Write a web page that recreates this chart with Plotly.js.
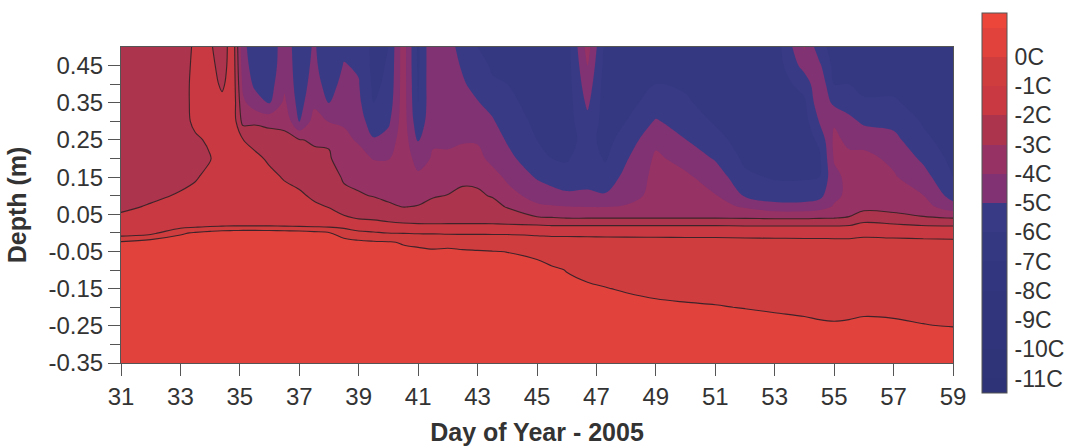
<!DOCTYPE html>
<html>
<head>
<meta charset="utf-8">
<script src="https://cdn.plot.ly/plotly-3.0.1.min.js"></script>
<style>html,body{margin:0;padding:0;background:#fff;}#chart{width:1077px;height:447px;}</style>
</head>
<body>
<div id="chart"></div>
<script>
// Day of year (x) and depth in metres (y)
const days = [31,32,33,33.5,34,34.4,34.8,35.1,35.5,36,36.5,37,37.5,38,38.5,39,39.5,40,40.5,41,41.5,42,42.5,43,43.5,44,45,45.5,46,46.7,47.3,48,49,50,51,52,53,54,54.5,55,55.5,56,57,58,59];
const depths = [-0.35,-0.3,-0.25,-0.2,-0.15,-0.1,-0.05,-0.025,0,0.02,0.04,0.07,0.1,0.15,0.2,0.25,0.3,0.35,0.4,0.45,0.5];

// Temperature profile (deg C) for each day, listed from -0.35 m up to 0.5 m
const tempByDay = [
 [0.9,0.85,0.8,0.7,0.6,0.45,0.25,0.1,-1.6,-1.75,-1.9,-2.1,-2.3,-2.4,-2.45,-2.5,-2.5,-2.5,-2.5,-2.5,-2.5],
 [0.9,0.86,0.82,0.76,0.7,0.64,0.58,0.5,-1.3,-1.6,-1.8,-1.95,-2.1,-2.3,-2.4,-2.45,-2.5,-2.5,-2.5,-2.5,-2.5],
 [0.9,0.86,0.82,0.76,0.7,0.64,0.58,0.52,-0.15,-1.5,-1.7,-1.85,-1.95,-2.15,-2.3,-2.35,-2.3,-2.3,-2.3,-2.3,-2.3],
 [0.9,0.86,0.82,0.76,0.7,0.64,0.58,0.54,0.1,-1.35,-1.6,-1.75,-1.85,-2.05,-2.25,-2.1,-1.85,-1.8,-1.8,-1.85,-1.9],
 [0.9,0.86,0.82,0.76,0.7,0.64,0.58,0.55,0.3,-1.2,-1.45,-1.6,-1.7,-1.85,-2.03,-1.9,-1.75,-1.7,-1.75,-1.85,-1.95],
 [0.9,0.86,0.82,0.76,0.7,0.64,0.58,0.56,0.45,-1.15,-1.4,-1.5,-1.55,-1.6,-1.65,-1.65,-1.7,-1.85,-2.1,-2.2,-2.2],
 [0.9,0.86,0.82,0.76,0.7,0.64,0.58,0.56,0.5,-1.1,-1.35,-1.45,-1.5,-1.55,-1.6,-1.6,-1.6,-1.6,-1.65,-1.7,-1.75],
 [0.9,0.86,0.82,0.76,0.7,0.64,0.58,0.56,0.55,-1.1,-1.35,-1.5,-1.6,-1.7,-1.8,-1.98,-3.3,-3.8,-4.2,-4.5,-4.7],
 [0.9,0.86,0.82,0.76,0.7,0.64,0.58,0.56,0.55,-1.1,-1.35,-1.5,-1.6,-1.7,-1.85,-2.2,-3.2,-4.5,-5.2,-5.5,-5.6],
 [0.9,0.86,0.82,0.76,0.7,0.64,0.58,0.56,0.5,-1.1,-1.35,-1.5,-1.65,-1.85,-2.1,-2.5,-3.3,-5.05,-5.4,-5.6,-5.6],
 [0.9,0.86,0.82,0.76,0.7,0.64,0.58,0.55,0.45,-1.15,-1.45,-1.65,-1.8,-2.05,-2.4,-2.8,-3.2,-3.8,-4.2,-4.4,-4.5],
 [0.9,0.86,0.82,0.76,0.7,0.64,0.58,0.55,0.4,-1.2,-1.55,-1.75,-1.9,-2.2,-2.6,-2.95,-5.05,-5.4,-5.5,-5.5,-5.5],
 [0.88,0.84,0.8,0.74,0.68,0.62,0.55,0.5,0.25,-1.25,-1.65,-1.9,-2.1,-2.5,-2.8,-3.1,-3.6,-4.2,-4.6,-4.8,-4.9],
 [0.85,0.8,0.75,0.68,0.6,0.52,0.42,0.35,0.05,-1.3,-1.8,-2.02,-2.3,-2.6,-2.9,-3.1,-4.05,-5.05,-5.4,-5.6,-5.6],
 [0.85,0.8,0.75,0.68,0.6,0.5,0.38,0.3,-0.4,-1.4,-1.9,-2.3,-2.8,-3.1,-3.5,-3.8,-4.1,-4.4,-4.7,-4.95,-5.2],
 [0.85,0.8,0.75,0.68,0.6,0.48,0.3,0.2,-0.8,-1.6,-2.05,-2.5,-2.9,-3.3,-3.7,-4.1,-4.5,-4.8,-4.95,-5.1,-5.2],
 [0.85,0.8,0.75,0.68,0.6,0.46,0.25,0.1,-0.9,-1.7,-2.1,-2.55,-3.05,-3.4,-4.05,-4.9,-5.6,-6.0,-6.2,-6.3,-6.3],
 [0.85,0.8,0.74,0.67,0.58,0.42,0.2,0.05,-1.02,-1.8,-2.2,-2.85,-3.2,-3.5,-4.05,-4.6,-5.2,-5.6,-5.8,-5.9,-6.0],
 [0.85,0.8,0.74,0.66,0.56,0.38,0.12,-0.05,-1.05,-1.85,-2.3,-3.02,-3.15,-3.3,-3.4,-3.45,-3.5,-3.5,-3.5,-3.5,-3.5],
 [0.85,0.8,0.74,0.65,0.54,0.35,0.08,-0.1,-1.1,-1.9,-2.3,-2.95,-3.3,-3.8,-4.4,-5.1,-5.7,-6.0,-6.1,-6.2,-6.2],
 [0.85,0.8,0.73,0.64,0.52,0.33,0.05,-0.15,-1.1,-1.9,-2.35,-2.8,-3.05,-3.5,-3.9,-4.1,-4.2,-4.2,-4.1,-4.05,-4.05],
 [0.85,0.8,0.73,0.63,0.5,0.3,0.08,-0.15,-1.15,-1.9,-2.3,-2.7,-2.98,-3.3,-3.8,-4.2,-4.4,-4.5,-4.5,-4.6,-4.7],
 [0.85,0.8,0.72,0.62,0.48,0.28,0.05,-0.2,-1.15,-1.9,-2.3,-2.65,-2.9,-3.1,-3.6,-4.1,-4.5,-4.8,-4.9,-5.1,-5.3],
 [0.85,0.8,0.72,0.61,0.46,0.26,0.03,-0.22,-1.15,-1.9,-2.3,-2.65,-2.9,-3.15,-3.7,-4.1,-4.6,-4.95,-5.3,-5.7,-6.0],
 [0.85,0.8,0.71,0.6,0.45,0.24,0.01,-0.25,-1.15,-1.9,-2.35,-2.75,-3.05,-3.6,-4.3,-4.5,-4.9,-5.3,-5.9,-6.1,-6.2],
 [0.85,0.8,0.7,0.58,0.42,0.2,-0.01,-0.3,-1.15,-1.9,-2.5,-3.05,-3.6,-4.2,-4.7,-5.1,-5.5,-5.8,-6.0,-6.1,-6.2],
 [0.82,0.76,0.66,0.52,0.36,0.2,-0.15,-0.55,-1.2,-1.95,-2.9,-3.8,-4.4,-5.1,-5.7,-6.0,-6.2,-6.3,-6.3,-6.3,-6.3],
 [0.8,0.72,0.6,0.44,0.26,0.1,-0.35,-0.6,-1.25,-2.02,-2.95,-3.9,-4.6,-5.4,-6.0,-6.3,-6.4,-6.4,-6.4,-6.4,-6.4],
 [0.78,0.68,0.55,0.36,0.15,-0.02,-0.4,-0.62,-1.25,-2.02,-3.02,-3.98,-4.8,-5.6,-6.1,-6.3,-6.4,-6.5,-6.5,-6.5,-6.5],
 [0.75,0.64,0.5,0.3,0.08,-0.15,-0.45,-0.65,-1.25,-2.02,-3.02,-4.02,-4.85,-5.3,-5.5,-5.7,-5.3,-4.8,-4.4,-4.0,-3.6],
 [0.73,0.6,0.45,0.25,0.02,-0.2,-0.5,-0.68,-1.25,-2.02,-3.02,-4.02,-4.9,-5.6,-6.1,-6.3,-6.4,-6.5,-6.5,-6.4,-6.3],
 [0.7,0.56,0.4,0.18,-0.05,-0.28,-0.55,-0.7,-1.25,-2.02,-3.02,-3.9,-4.4,-4.7,-5.1,-5.6,-6.0,-6.3,-6.4,-6.4,-6.4],
 [0.68,0.52,0.34,0.1,-0.12,-0.34,-0.58,-0.72,-1.25,-2.02,-3.02,-3.6,-3.7,-3.75,-3.85,-4.2,-4.9,-5.6,-6.0,-6.2,-6.3],
 [0.66,0.5,0.3,0.06,-0.16,-0.38,-0.6,-0.74,-1.25,-2.02,-3.02,-3.6,-3.75,-3.85,-4.3,-4.98,-5.5,-5.9,-6.1,-6.3,-6.3],
 [0.64,0.48,0.27,0.03,-0.2,-0.4,-0.62,-0.75,-1.25,-2.02,-3.02,-3.7,-3.95,-4.4,-5.1,-5.7,-6.1,-6.3,-6.4,-6.4,-6.4],
 [0.62,0.45,0.24,-0.02,-0.22,-0.42,-0.63,-0.76,-1.3,-2.05,-3.05,-4.1,-5.1,-5.8,-6.2,-6.4,-6.5,-6.5,-6.5,-6.5,-6.5],
 [0.6,0.42,0.12,-0.05,-0.26,-0.45,-0.65,-0.78,-1.3,-2.05,-3.1,-4.6,-5.5,-6.1,-6.4,-6.5,-6.6,-6.6,-6.6,-6.6,-6.6],
 [0.58,0.4,0.08,-0.08,-0.28,-0.47,-0.66,-0.8,-1.3,-2.05,-3.1,-4.6,-5.5,-6.1,-6.4,-6.5,-6.4,-6.2,-5.6,-4.6,-3.9],
 [0.56,0.38,0.05,-0.1,-0.3,-0.48,-0.67,-0.8,-1.3,-2.05,-3.05,-4.4,-5.3,-6.0,-6.2,-5.8,-4.95,-4.3,-4.2,-4.8,-5.6],
 [0.55,0.36,0.04,-0.12,-0.32,-0.5,-0.68,-0.82,-1.3,-2.05,-3.02,-3.9,-4.2,-4.3,-3.9,-3.8,-4.1,-5.2,-6.0,-6.3,-6.4],
 [0.55,0.36,0.06,-0.12,-0.32,-0.5,-0.68,-0.82,-1.3,-2.02,-2.9,-3.7,-3.8,-3.7,-3.8,-4.2,-4.7,-5.5,-6.0,-6.2,-6.3],
 [0.56,0.38,0.1,-0.1,-0.3,-0.48,-0.66,-0.78,-1.2,-1.7,-2.45,-3.3,-3.65,-3.6,-3.75,-4.3,-5.2,-5.9,-6.2,-6.3,-6.3],
 [0.56,0.38,0.08,-0.12,-0.32,-0.5,-0.67,-0.8,-1.25,-1.85,-2.6,-3.4,-3.75,-3.9,-4.2,-4.7,-5.3,-5.9,-6.2,-6.3,-6.3],
 [0.55,0.36,0.02,-0.15,-0.34,-0.52,-0.68,-0.82,-1.3,-2.02,-2.9,-3.6,-3.98,-4.6,-5.2,-5.8,-6.1,-6.3,-6.3,-6.3,-6.3],
 [0.55,0.35,-0.02,-0.18,-0.36,-0.54,-0.7,-0.84,-1.35,-2.05,-3.02,-4.6,-5.4,-6.0,-6.3,-6.4,-6.4,-6.4,-6.4,-6.4,-6.4]
];

// Axis and colour-bar labels
const xTickVals = [31,33,35,37,39,41,43,45,47,49,51,53,55,57,59];
const yTickVals = [0.45,0.35,0.25,0.15,0.05,-0.05,-0.15,-0.25,-0.35];
const yTickText = ['0.45','0.35','0.25','0.15','0.05','-0.05','-0.15','-0.25','-0.35'];
const yMinorVals = [0.4,0.3,0.2,0.1,0,-0.1,-0.2,-0.3];
const cbTickVals = [0,-1,-2,-3,-4,-5,-6,-7,-8,-9,-10,-11];
const cbTickText = ['0C','-1C','-2C','-3C','-4C','-5C','-6C','-7C','-8C','-9C','-10C','-11C'];

// One colour per 1-degree band, from the coldest band up to the warmest
const bandColors = ['rgb(46,50,118)','rgb(47,51,120)','rgb(48,52,122)','rgb(49,53,124)','rgb(50,54,126)',
  'rgb(52,56,129)','rgb(57,58,133)','rgb(128,50,115)','rgb(150,50,100)','rgb(172,52,76)',
  'rgb(200,57,65)','rgb(208,61,63)','rgb(226,66,60)','rgb(236,70,58)'];
const colorscale = bandColors.map((c, i) => [i / (bandColors.length - 1), c]);

const FONT = 'Liberation Sans, Arial, sans-serif';

const fill = {
  type: 'contour', x: days, y: depths, z: tempByDay, transpose: true,
  autocontour: false,
  contours: {start: -11, end: 1, size: 1, coloring: 'fill', showlines: false},
  line: {width: 0, smoothing: 1},
  colorscale: colorscale,
  hoverinfo: 'skip',
  colorbar: {
    x: 1.0347, xanchor: 'left', xpad: 0,
    y: 0.506, yanchor: 'middle', ypad: 0,
    len: 380, lenmode: 'pixels', thickness: 25, thicknessmode: 'pixels',
    outlinewidth: 1, outlinecolor: '#555',
    tickmode: 'array', tickvals: cbTickVals, ticktext: cbTickText,
    ticks: 'outside', ticklen: 3, tickcolor: 'rgba(0,0,0,0)',
    tickfont: {family: FONT, size: 23, color: '#333'}
  }
};

const lines = {
  type: 'contour', x: days, y: depths, z: tempByDay, transpose: true,
  autocontour: false,
  contours: {start: -3, end: 0, size: 1, coloring: 'none'},
  line: {color: 'rgb(62,36,42)', width: 1.1, smoothing: 1},
  showscale: false, hoverinfo: 'skip'
};

const layout = {
  width: 1077, height: 447,
  margin: {l: 121, r: 119, t: 47, b: 84},
  paper_bgcolor: '#ffffff', plot_bgcolor: '#ffffff',
  font: {family: FONT, color: '#333'},
  showlegend: false,
  xaxis: {
    range: [31, 59], tickmode: 'array', tickvals: xTickVals,
    ticks: 'outside', ticklen: 12, tickwidth: 1, tickcolor: '#555',
    showline: true, linecolor: '#555', linewidth: 1, mirror: true,
    showgrid: false, zeroline: false,
    tickfont: {family: FONT, size: 24, color: '#333'},
    title: {text: 'Day of Year - 2005', standoff: 14, font: {family: FONT, size: 25, weight: 'bold', color: '#333'}}
  },
  yaxis: {
    range: [-0.35, 0.5], tickmode: 'array', tickvals: yTickVals, ticktext: yTickText,
    ticks: 'outside', ticklen: 12, tickwidth: 1, tickcolor: '#555',
    minor: {tickmode: 'array', tickvals: yMinorVals, ticks: 'outside', ticklen: 10, tickcolor: '#555', tickwidth: 1},
    showline: true, linecolor: '#555', linewidth: 1, mirror: true,
    showgrid: false, zeroline: false,
    tickfont: {family: FONT, size: 24, color: '#333'},
    title: {text: 'Depth (m)', standoff: 14, font: {family: FONT, size: 25, weight: 'bold', color: '#333'}}
  }
};

Plotly.newPlot('chart', [fill, lines], layout, {displayModeBar: false, staticPlot: true});
</script>
</body>
</html>
